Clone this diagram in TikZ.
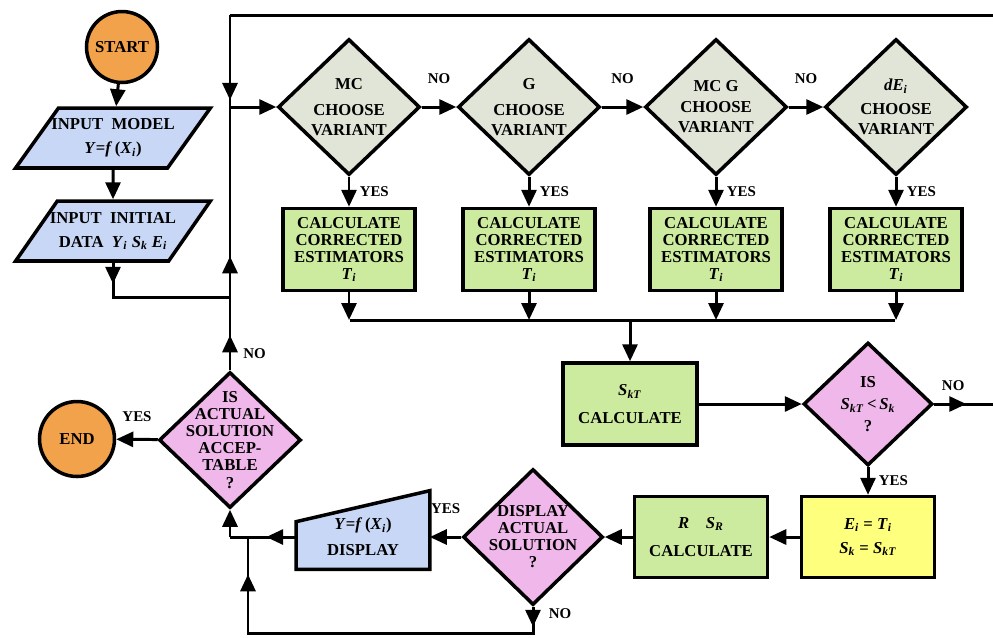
\documentclass[tikz,border=0pt]{standalone}
\usepackage{fontspec}
\setmainfont{Liberation Serif}
\usetikzlibrary{shapes.geometric, arrows.meta, positioning, decorations.markings, backgrounds}

\newcommand{\ms}[2]{\textit{#1}\textsubscript{\textit{#2}}}

\definecolor{startorange}{HTML}{F2A24A}
\definecolor{inblue}{HTML}{C8D7F5}
\definecolor{choosegrey}{HTML}{E1E5D8}
\definecolor{calcgreen}{HTML}{CDEB9E}
\definecolor{askpink}{HTML}{F0B8EA}
\definecolor{setyellow}{HTML}{FFFF7E}

\tikzset{
  every node/.style={font=\bfseries\fontsize{9.5}{9.7}\selectfont, align=center},
  term/.style={circle, draw, line width=2pt, fill=startorange, minimum size=1.42cm, inner sep=0pt},
  inbox/.style={trapezium, trapezium left angle=45, trapezium right angle=135, trapezium stretches=true,
    draw, line width=2pt, fill=inblue, minimum width=3.9cm, minimum height=1.2cm, inner ysep=1pt, inner xsep=-1.6mm},
  choose/.style={diamond, draw, line width=2pt, fill=choosegrey, minimum width=2.84cm, minimum height=2.72cm, inner sep=0pt},
  ask/.style={choose, fill=askpink},
  calc/.style={rectangle, draw, line width=2pt, fill=calcgreen, minimum width=2.64cm, minimum height=1.64cm, inner sep=1pt},
  setbox/.style={calc, fill=setyellow},
  dispbox/.style={rectangle, minimum width=2.66cm, minimum height=1.28cm, inner sep=1pt},
  wire/.style={line width=1.7pt},
  flow/.style={wire, -{Triangle[length=0.34cm, width=0.3cm]}},
  arrowat/.style={postaction={decorate, decoration={markings,
    mark=at position #1 with {\arrow{Triangle[length=0.34cm, width=0.3cm]}}}}},
  tag/.style={font=\bfseries\fontsize{8.5}{9}\selectfont, inner sep=1pt}
}

\begin{document}
\begin{tikzpicture}[x=0.02cm, y=-0.02cm]
\useasboundingbox (0,0) rectangle (993,637);

% input column
\node[term] (start) at (122,47) {START};
\node[inbox] (model) at (113,138) {INPUT\ \ MODEL\\[4pt]\textit{Y}=\textit{f}\,(\ms{X}{i})};
\node[inbox] (init) at (113,231) {INPUT\ \ INITIAL\\[4pt]DATA\ \ \ms{Y}{i}\ \ms{S}{k}\ \ms{E}{i}};

% variants
\node[choose, label={center:MC\\[5pt]CHOOSE\\[2pt]VARIANT}] (mc) at (349,107) {};
\node[choose, label={center:G\\[5pt]CHOOSE\\[2pt]VARIANT}] (g) at (529,107) {};
\node[choose, label={center:MC G\\[2pt]CHOOSE\\[2pt]VARIANT}] (mcg) at (716,107) {};
\node[choose, label={center:\textit{dE}\textsubscript{\textit{i}}\\[4pt]CHOOSE\\[2pt]VARIANT}] (de) at (896,107) {};

\node[calc, below=6mm of mc] (est1) {CALCULATE\\CORRECTED\\ESTIMATORS\\\ms{T}{i}};
\node[calc, below=6mm of g] (est2) {CALCULATE\\CORRECTED\\ESTIMATORS\\\ms{T}{i}};
\node[calc, below=6mm of mcg] (est3) {CALCULATE\\CORRECTED\\ESTIMATORS\\\ms{T}{i}};
\node[calc, below=6mm of de] (est4) {CALCULATE\\CORRECTED\\ESTIMATORS\\\ms{T}{i}};

% middle and bottom
\node[calc, minimum width=2.68cm] (skt) at (630,404) {\ms{S}{kT}\\[6pt]CALCULATE};
\node[ask, minimum width=2.58cm, minimum height=2.46cm,
  label={center:IS\\[3pt]\ms{S}{kT}\,\textless\,\ms{S}{k}\\[3pt]?}] (chk) at (868,404) {};
\node[setbox, minimum width=2.66cm, minimum height=1.62cm] (yel) at (868,537) {\ms{E}{i}\ =\ \ms{T}{i}\\[4pt]\ms{S}{k}\ =\ \ms{S}{kT}};
\node[calc, minimum width=2.66cm, minimum height=1.62cm] (rbox) at (701,537) {\textit{R}\quad\ms{S}{R}\\[6pt]CALCULATE};
\node[ask, minimum width=2.8cm, label={center:DISPLAY\\ACTUAL\\SOLUTION\\?}] (dact) at (533,537) {};
\node[dispbox] (disp) at (363,537) {\textit{Y}=\textit{f}\,(\ms{X}{i})\\[5pt]DISPLAY};
\node[ask, label={center:IS\\ACTUAL\\SOLUTION\\ACCEP-\\TABLE\\?}] (acc) at (230,440) {};
\node[term, minimum size=1.5cm] (end) at (77,439) {END};

\begin{scope}[on background layer]
\draw[line width=2pt, fill=inblue] (disp.south west) -- (disp.south east)
  -- ([yshift=0.28cm]disp.north east) -- ([yshift=-0.34cm]disp.north west) -- cycle;
\end{scope}

% junctions
\coordinate (j1) at (230,107);
\coordinate (j2) at (230,297);
\coordinate (j3) at (230,537);
\coordinate (j4) at (248,537);
\coordinate (bot) at (248,633);
\coordinate (topl) at (230,15);
\coordinate (offr) at (1010,404);
\coordinate (busl) at (350,320);
\coordinate (busr) at (895,320);

\draw[flow] (start) -- (model);
\draw[flow] (model) -- (init);
\draw[wire, arrowat=0.42cm] (init) |- (j2);
\draw[flow] (j1) -- (mc);

\draw[flow] (mc) -- node[tag, above=4mm] {NO} (g);
\draw[flow] (g) -- node[tag, above=4mm] {NO} (mcg);
\draw[flow] (mcg) -- node[tag, above=4mm] {NO} (de);

\draw[flow] (mc) -- node[tag, right=1.5mm] {YES} (est1);
\draw[flow] (g) -- node[tag, right=1.5mm] {YES} (est2);
\draw[flow] (mcg) -- node[tag, right=1.5mm] {YES} (est3);
\draw[flow] (de) -- node[tag, right=1.5mm] {YES} (est4);

\foreach \e in {est1,est2,est3,est4}
  \draw[flow] (\e) -- (\e |- busl);
\draw[wire] (busl) -- (busr);
\draw[flow] (skt |- busl) -- (skt);

\draw[flow] (skt) -- (chk);
\draw[wire, arrowat=0.64cm] (chk.east) -- node[tag, pos=0.25, above=2mm] {NO} (offr);
\draw[wire] (offr) |- (topl);
\draw[wire, arrowat=1.7cm] (topl) -- (j1);

\draw[flow] (chk) -- node[tag, right=1.5mm] {YES} (yel);
\draw[flow] (yel) -- (rbox);
\draw[flow] (rbox) -- (dact);
\draw[flow] (dact) -- node[tag, above=4mm] {YES} (disp);
\draw[wire, arrowat=0.6cm] (disp) -- (j3);
\draw[flow] (j3) -- (acc);
\draw[wire, arrowat=0.4cm, arrowat=7.4cm] (dact) |- node[tag, pos=0.14, right=2.5mm] {NO} (bot) -- (j4);

\draw[flow] (acc) -- node[tag, above=3mm] {YES} (end);
\draw[wire, arrowat=0.7cm, arrowat=2.28cm] (acc) -- node[tag, pos=0.065, right=2mm] {NO} (j1);
\end{tikzpicture}
\end{document}
